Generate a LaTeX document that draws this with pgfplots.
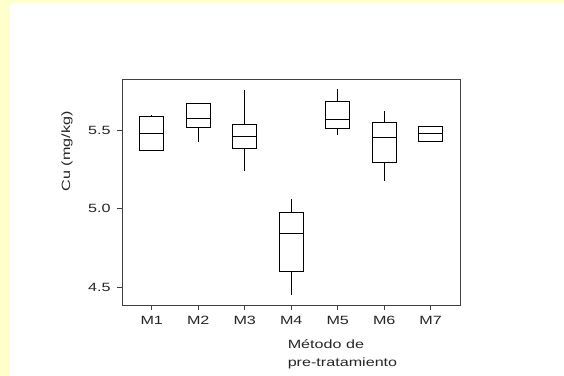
\documentclass[border=0pt]{standalone}
\usepackage{fontspec}
\setmainfont{Liberation Sans}[FakeStretch=1.35]
\usepackage{pgfplots}
\usepgfplotslibrary{statistics}
\pgfplotsset{compat=1.18}
\definecolor{bgyellow}{HTML}{FFFFCC}
\definecolor{axgray}{HTML}{404040}
\begin{document}
\begin{tikzpicture}
\fill[bgyellow] (0bp,0bp) rectangle (564bp,376bp);
\fill[white] (10bp,0bp) rectangle (564bp,373bp);
\useasboundingbox (0bp,0bp) rectangle (564bp,376bp);
\begin{axis}[
  at={(122bp,71bp)}, anchor=south west,
  scale only axis, width=338bp, height=226bp,
  xmin=0.36, xmax=7.63, ymin=4.39, ymax=5.824,
  axis line style={axgray, line width=0.9bp},
  tick style={axgray, line width=0.9bp},
  tick align=outside, major tick length=5bp,
  xtick pos=left, ytick pos=left,
  xtick={1,2,3,4,5,6,7},
  xticklabels={M1,M2,M3,M4,M5,M6,M7},
  ytick={4.5,5.0,5.5},
  yticklabel style={/pgf/number format/fixed, /pgf/number format/precision=1, /pgf/number format/fixed zerofill, /pgf/number format/assume math mode=true, xshift=-3bp},
  xticklabel style={yshift=-3bp},
  ticklabel style={font=\fontsize{12}{14}\selectfont, text=black!85},
  label style={font=\fontsize{12}{18}\selectfont, text=black!85},
  xlabel={Método de\\pre-tratamiento},
  xlabel style={at={(axis description cs:0.48,0)}, anchor=north west, yshift=-31bp, align=left},
  ylabel={Cu (mg/kg)},
  ylabel style={at={(axis description cs:-0.163,0.68)}, anchor=center},
  boxplot/draw direction=y,
  boxplot/box extend=0.52,
  boxplot/whisker extend=0,
]
\addplot+[black, solid, mark=none, line width=0.8bp, boxplot prepared={draw position=1, lower whisker=5.371, lower quartile=5.371, median=5.481, upper quartile=5.589, upper whisker=5.595}] coordinates {};
\addplot+[black, solid, mark=none, line width=0.8bp, boxplot prepared={draw position=2, lower whisker=5.426, lower quartile=5.519, median=5.572, upper quartile=5.670, upper whisker=5.670}] coordinates {};
\addplot+[black, solid, mark=none, line width=0.8bp, boxplot prepared={draw position=3, lower whisker=5.242, lower quartile=5.384, median=5.462, upper quartile=5.538, upper whisker=5.752}] coordinates {};
\addplot+[black, solid, mark=none, line width=0.8bp, boxplot prepared={draw position=4, lower whisker=4.452, lower quartile=4.606, median=4.846, upper quartile=4.979, upper whisker=5.062}] coordinates {};
\addplot+[black, solid, mark=none, line width=0.8bp, boxplot prepared={draw position=5, lower whisker=5.468, lower quartile=5.508, median=5.570, upper quartile=5.684, upper whisker=5.759}] coordinates {};
\addplot+[black, solid, mark=none, line width=0.8bp, boxplot prepared={draw position=6, lower whisker=5.177, lower quartile=5.294, median=5.451, upper quartile=5.547, upper whisker=5.619}] coordinates {};
\addplot+[black, solid, mark=none, line width=0.8bp, boxplot prepared={draw position=7, lower whisker=5.428, lower quartile=5.428, median=5.477, upper quartile=5.521, upper whisker=5.525}] coordinates {};
\end{axis}
\end{tikzpicture}
\end{document}
